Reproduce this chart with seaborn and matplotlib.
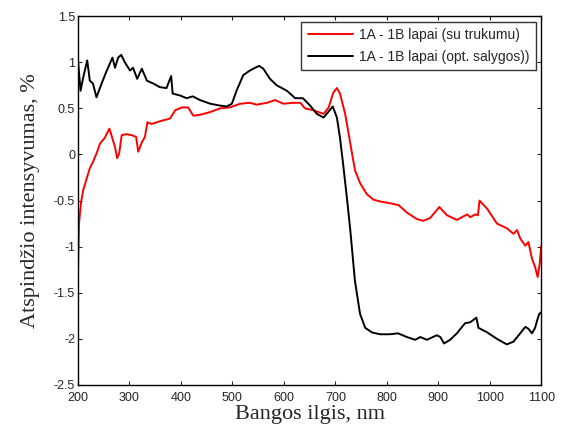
import numpy as np
import pandas as pd
import matplotlib
matplotlib.use("Agg")
import matplotlib.pyplot as plt
import seaborn as sns

# spectra
# 1A - 1B lapai (su trukumu)
wl_red = [200, 201, 202, 206, 210, 217, 223, 230, 236, 243, 252, 261, 266, 272, 276,
          280, 285, 295, 304, 313, 317, 324, 330, 335, 343, 359, 379, 389, 402, 414,
          424, 437, 457, 476, 495, 515, 534, 547, 567, 583, 599, 618, 632, 641, 657,
          677, 687, 696, 703, 709, 719, 729, 738, 748, 761, 774, 787, 807, 823, 839,
          858, 871, 884, 902, 917, 936, 956, 962, 972, 977, 980, 995, 1014, 1033, 1046,
          1053, 1059, 1069, 1075, 1082, 1088, 1093, 1097, 1100]
val_red = [-1.29, -1.0, -0.75, -0.52, -0.39, -0.26, -0.15, -0.07, 0.01, 0.12, 0.18, 0.28, 0.19, 0.08, -0.04,
           0.01, 0.21, 0.22, 0.21, 0.19, 0.03, 0.13, 0.19, 0.35, 0.33, 0.36, 0.39, 0.48, 0.51, 0.51,
           0.42, 0.43, 0.46, 0.50, 0.51, 0.55, 0.56, 0.54, 0.56, 0.59, 0.55, 0.56, 0.56, 0.50, 0.48,
           0.44, 0.51, 0.67, 0.72, 0.66, 0.44, 0.12, -0.17, -0.31, -0.43, -0.49, -0.51, -0.53, -0.55, -0.63,
           -0.70, -0.72, -0.69, -0.57, -0.66, -0.71, -0.65, -0.68, -0.65, -0.66, -0.50, -0.59, -0.75, -0.80, -0.86,
           -0.82, -0.91, -0.99, -0.95, -1.13, -1.22, -1.33, -1.18, -0.99]

# 1A - 1B lapai (opt. salygos)
wl_black = [200, 205, 210, 218, 223, 229, 236, 246, 256, 267, 272, 278, 284, 291, 301,
            307, 315, 324, 334, 346, 359, 372, 381, 384, 398, 411, 423, 437, 457, 476,
            489, 499, 508, 521, 534, 544, 552, 560, 573, 586, 606, 622, 637, 651, 664,
            677, 686, 695, 703, 709, 715, 723, 729, 738, 748, 758, 771, 787, 806, 822,
            839, 855, 865, 878, 897, 904, 911, 923, 936, 952, 962, 974, 978, 995, 1014,
            1033, 1046, 1059, 1069, 1075, 1082, 1088, 1092, 1096, 1100]
val_black = [1.02, 0.69, 0.83, 1.02, 0.80, 0.77, 0.62, 0.77, 0.91, 1.05, 0.94, 1.05, 1.08, 1.0, 0.91,
             0.94, 0.82, 0.93, 0.80, 0.77, 0.73, 0.72, 0.85, 0.66, 0.64, 0.61, 0.63, 0.59, 0.55, 0.53,
             0.52, 0.55, 0.69, 0.86, 0.91, 0.94, 0.96, 0.93, 0.82, 0.75, 0.69, 0.61, 0.61, 0.53, 0.44,
             0.40, 0.46, 0.52, 0.40, 0.18, -0.10, -0.50, -0.82, -1.37, -1.73, -1.88, -1.93, -1.95, -1.95, -1.94,
             -1.98, -2.01, -1.98, -2.01, -1.96, -1.98, -2.05, -2.01, -1.94, -1.83, -1.82, -1.77, -1.88, -1.93, -2.00,
             -2.06, -2.03, -1.94, -1.87, -1.89, -1.94, -1.88, -1.80, -1.73, -1.71]

labels = ["1A - 1B lapai (su trukumu)", "1A - 1B lapai (opt. salygos))"]

df = pd.concat([
    pd.DataFrame({"wl": wl_red, "val": val_red, "serija": labels[0]}),
    pd.DataFrame({"wl": wl_black, "val": val_black, "serija": labels[1]}),
])

sns.set_style("white")
plt.rcParams["font.family"] = ["Liberation Sans", "DejaVu Sans"]

fig = plt.figure(figsize=(5.65, 4.36), dpi=100)
ax = fig.add_axes([0.138, 0.117, 0.820, 0.846])

sns.lineplot(data=df, x="wl", y="val", hue="serija", palette=["#ff0000", "#000000"],
             linewidth=1.4, sort=False, estimator=None, ax=ax)

ax.set_xlim(200, 1100)
ax.set_ylim(-2.5, 1.5)
ax.set_xticks(np.arange(200, 1101, 100))
ax.set_yticks(np.arange(-2.5, 1.51, 0.5))
ax.set_yticklabels(["-2.5", "-2", "-1.5", "-1", "-0.5", "0", "0.5", "1", "1.5"])
ax.tick_params(direction="in", length=3, width=0.8, labelsize=9, top=True, right=True,
               bottom=True, left=True, pad=2)
ax.tick_params(axis="x", pad=5)
for s in ax.spines.values():
    s.set_color("black")
    s.set_linewidth(1.0)

ax.set_xlabel("Bangos ilgis, nm", family="Liberation Serif", fontsize=16, labelpad=1)
ax.set_ylabel("Atspindžio intensyvumas, %", family="Liberation Serif", fontsize=16, labelpad=10)

leg = ax.legend(loc="upper right", fontsize=10, frameon=True, fancybox=False,
                borderaxespad=0.4, handlelength=3.3, handletextpad=0.4,
                labelspacing=0.55, borderpad=0.45)
leg.get_frame().set_edgecolor("black")
leg.get_frame().set_linewidth(1.0)
leg.set_title(None)

fig.savefig("out.png", dpi=100)
